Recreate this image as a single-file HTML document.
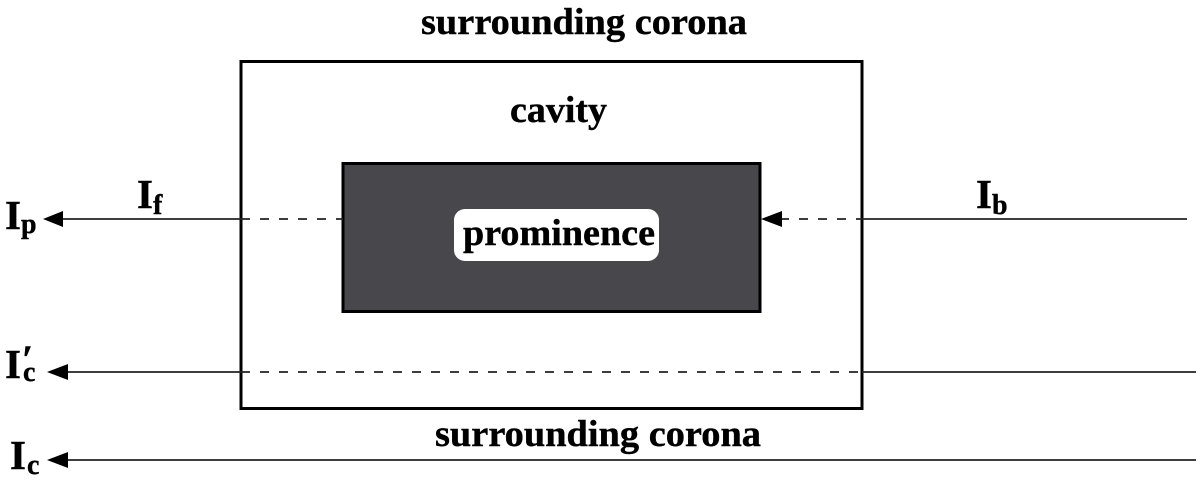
<!DOCTYPE html>
<html>
<head>
<meta charset="utf-8">
<style>
html,body{margin:0;padding:0;background:#fff;width:1200px;height:480px;overflow:hidden}
svg{display:block}
text{font-family:"Liberation Serif",serif;font-weight:bold;fill:#000;stroke:#000;stroke-width:.4px}
.m{font-size:37px}
.i{font-size:41px}
.s{font-size:28px}
</style>
</head>
<body>
<svg width="1200" height="480" viewBox="0 0 1200 480" xmlns="http://www.w3.org/2000/svg">
<rect x="241" y="61.500" width="621" height="347" fill="#fff" stroke="#000" stroke-width="3"/>
<rect x="343" y="163.500" width="417" height="148" fill="#48474c" stroke="#000" stroke-width="3"/>
<rect x="454" y="209" width="205" height="52" rx="11" fill="#fff"/>

<line x1="60" y1="219" x2="241" y2="219" stroke="#222" stroke-width="1.800"/>
<line x1="241" y1="219" x2="343" y2="219" stroke="#222" stroke-width="1.800" stroke-dasharray="9 10"/>
<line x1="862" y1="219" x2="1187" y2="219" stroke="#222" stroke-width="1.800"/>
<line x1="780" y1="219" x2="862" y2="219" stroke="#222" stroke-width="1.800" stroke-dasharray="9 10"/>
<line x1="65" y1="372" x2="241" y2="372" stroke="#222" stroke-width="1.800"/>
<line x1="241" y1="372" x2="862" y2="372" stroke="#222" stroke-width="1.800" stroke-dasharray="9 10"/>
<line x1="862" y1="372" x2="1196" y2="372" stroke="#222" stroke-width="1.800"/>
<line x1="65" y1="460" x2="1196" y2="460" stroke="#222" stroke-width="1.800"/>

<polygon points="43,219 63,211 63,227" fill="#000"/>
<polygon points="761,219 782,211 782,227" fill="#000"/>
<polygon points="47,372 68,364 68,380" fill="#000"/>
<polygon points="47,460 68,452 68,468" fill="#000"/>

<text class="m" x="421" y="34" textLength="326" lengthAdjust="spacingAndGlyphs">surrounding corona</text>
<text class="m" x="510" y="122" textLength="97" lengthAdjust="spacingAndGlyphs">cavity</text>
<text class="m" x="463" y="245" textLength="192" lengthAdjust="spacingAndGlyphs">prominence</text>
<text class="m" x="435" y="446" textLength="326" lengthAdjust="spacingAndGlyphs">surrounding corona</text>

<text class="i" x="137" y="208">I</text><text class="s" x="153" y="214">f</text>
<text class="i" x="5" y="229">I</text><text class="s" x="21" y="233">p</text>
<text class="i" x="976" y="208">I</text><text class="s" x="992" y="214">b</text>
<text class="i" x="5" y="378">I</text><text class="s" x="23" y="381">c</text>
<text x="22" y="373" style="font-size:40px">′</text>
<text class="i" x="10" y="469">I</text><text class="s" x="27" y="474">c</text>
</svg>
</body>
</html>
